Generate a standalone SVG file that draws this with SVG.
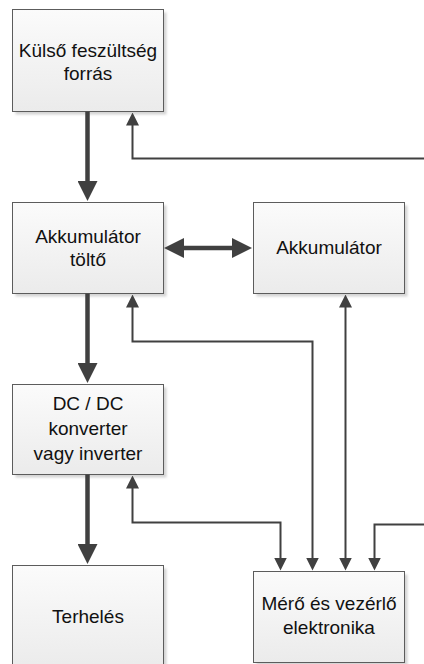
<svg xmlns="http://www.w3.org/2000/svg" width="424" height="664" viewBox="0 0 424 664">
  <style>
    .box { fill: url(#boxFill); stroke: #5c5c5c; stroke-width: 1; }
    .shadow { fill: #d4d4d4; filter: url(#soft); }
    .label { font-family: "Liberation Sans", Arial, sans-serif; font-size: 19px; fill: #111111; text-anchor: middle; }
    .thick { fill: none; stroke: #404040; stroke-width: 4.5; }
    .thin { fill: none; stroke: #404040; stroke-width: 2; }
  </style>
  <defs>
    <linearGradient id="boxFill" x1="0" y1="0" x2="0" y2="1">
      <stop offset="0" stop-color="#fbfbfb"/>
      <stop offset="1" stop-color="#ebebeb"/>
    </linearGradient>
    <filter id="soft" x="-10%" y="-10%" width="120%" height="120%">
      <feGaussianBlur stdDeviation="0.8"/>
    </filter>
    <marker id="headThick" viewBox="0 0 20 20" refX="1" refY="10" markerWidth="20" markerHeight="20" markerUnits="userSpaceOnUse" orient="auto-start-reverse">
      <path d="M0,0 L20,10 L0,20 z" fill="#404040"/>
    </marker>
    <marker id="headThin" viewBox="0 0 13 13" refX="1" refY="6.5" markerWidth="13" markerHeight="13" markerUnits="userSpaceOnUse" orient="auto-start-reverse">
      <path d="M0,0 L13,6.5 L0,13 z" fill="#404040"/>
    </marker>
  </defs>

  <!-- blocks -->
  <g id="kulso-forras">
    <rect class="shadow" x="15.5" y="12.5" width="151" height="102"/>
    <rect class="box" x="12.5" y="9.5" width="151" height="102"/>
    <text class="label" x="88" y="57">Külső feszültség</text>
    <text class="label" x="88" y="80">forrás</text>
  </g>

  <g id="akku-tolto">
    <rect class="shadow" x="15.5" y="205.5" width="151" height="91"/>
    <rect class="box" x="12.5" y="202.5" width="151" height="91"/>
    <text class="label" x="88" y="243">Akkumulátor</text>
    <text class="label" x="88" y="266">töltő</text>
  </g>

  <g id="akkumulator">
    <rect class="shadow" x="256.5" y="205.5" width="151" height="91"/>
    <rect class="box" x="253.5" y="202.5" width="151" height="91"/>
    <text class="label" x="329" y="254">Akkumulátor</text>
  </g>

  <g id="dcdc">
    <rect class="shadow" x="15.5" y="387.5" width="151" height="90"/>
    <rect class="box" x="12.5" y="384.5" width="151" height="90"/>
    <text class="label" x="88" y="410">DC / DC</text>
    <text class="label" x="88" y="435">konverter</text>
    <text class="label" x="88" y="460">vagy inverter</text>
  </g>

  <g id="terheles">
    <rect class="shadow" x="15.5" y="568.5" width="151" height="104"/>
    <rect class="box" x="12.5" y="565.5" width="151" height="104"/>
    <text class="label" x="88" y="623">Terhelés</text>
  </g>

  <g id="mero-vezerlo">
    <rect class="shadow" x="256.5" y="574.5" width="151" height="91"/>
    <rect class="box" x="253.5" y="571.5" width="151" height="91"/>
    <text class="label" x="329" y="610">Mérő és vezérlő</text>
    <text class="label" x="329" y="634">elektronika</text>
  </g>

  <!-- connectors -->
  <g id="connectors">
    <!-- power path -->
    <path class="thick" d="M87.5,111.5 V182" marker-end="url(#headThick)"/>
    <path class="thick" d="M183,248 H233" marker-start="url(#headThick)" marker-end="url(#headThick)"/>
    <path class="thick" d="M87.5,293.5 V364" marker-end="url(#headThick)"/>
    <path class="thick" d="M87.5,474.5 V545" marker-end="url(#headThick)"/>
    <!-- control / measurement lines -->
    <path class="thin" d="M424,158.5 H132.5 V124.5" marker-end="url(#headThin)"/>
    <path class="thin" d="M132.5,306.5 V341.5 H312.5 V558.5" marker-start="url(#headThin)" marker-end="url(#headThin)"/>
    <path class="thin" d="M345.5,306.5 V558.5" marker-start="url(#headThin)" marker-end="url(#headThin)"/>
    <path class="thin" d="M132.5,487.5 V522.5 H280.5 V558.5" marker-start="url(#headThin)" marker-end="url(#headThin)"/>
    <path class="thin" d="M424,524.5 H374.5 V558.5" marker-end="url(#headThin)"/>
  </g>
</svg>
